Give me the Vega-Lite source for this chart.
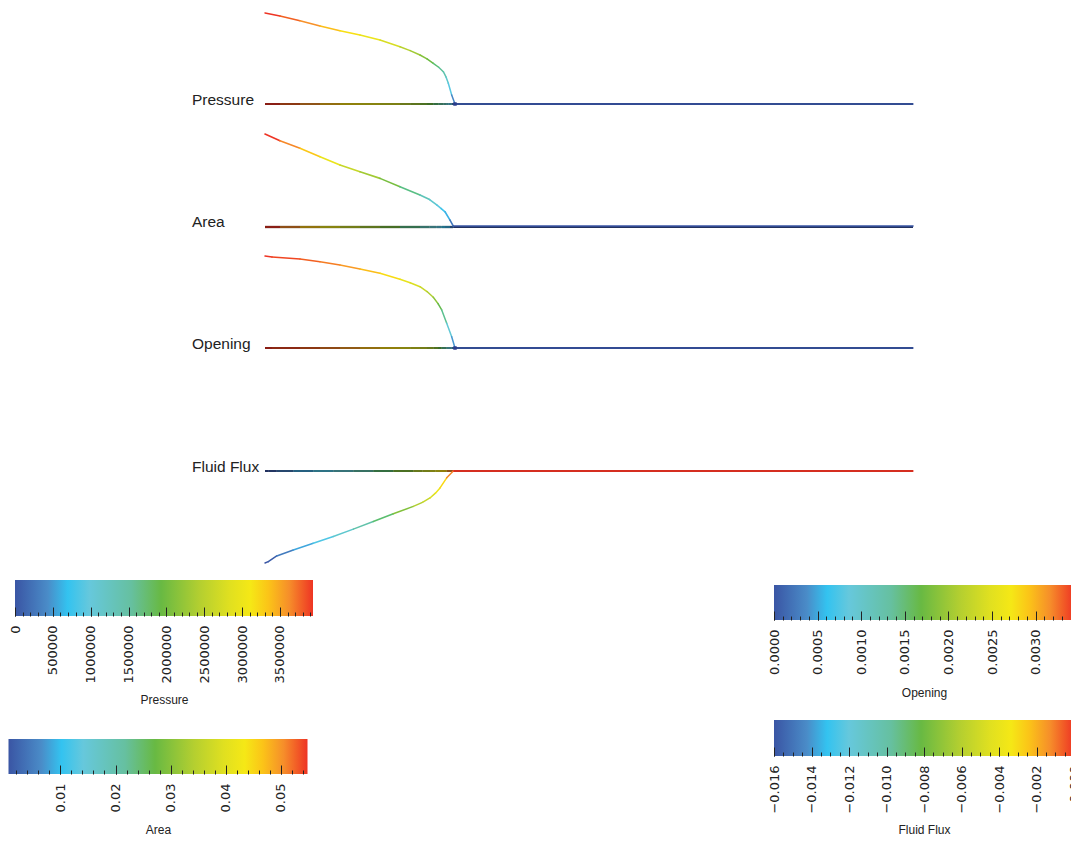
{
  "$schema": "https://vega.github.io/schema/vega-lite/v6.json",
  "width": 1071,
  "height": 841,
  "autosize": "none",
  "padding": 0,
  "background": "#ffffff",
  "config": {
    "view": {"stroke": null},
    "axis": {
      "labelFont": "DejaVu Sans",
      "labelFontSize": 13,
      "labelColor": "#222222",
      "tickColor": "#222222",
      "tickWidth": 1,
      "titleFont": "Liberation Sans",
      "titleFontSize": 12,
      "titleFontWeight": "normal",
      "titleColor": "#222222",
      "titlePadding": 12,
      "labelOverlap": false,
      "labelFlush": false,
      "grid": false,
      "domain": false
    }
  },
  "datasets": {
    "curves": [
      {"series": "Pressure", "s": 0, "v": 3936000},
      {"series": "Pressure", "s": 2.31, "v": 3806000},
      {"series": "Pressure", "s": 5.4, "v": 3603000},
      {"series": "Pressure", "s": 8.49, "v": 3374000},
      {"series": "Pressure", "s": 11.57, "v": 3170000},
      {"series": "Pressure", "s": 14.66, "v": 2984000},
      {"series": "Pressure", "s": 17.75, "v": 2768000},
      {"series": "Pressure", "s": 20.83, "v": 2478000},
      {"series": "Pressure", "s": 22.4, "v": 2310000},
      {"series": "Pressure", "s": 23.92, "v": 2119000},
      {"series": "Pressure", "s": 25.0, "v": 1950000},
      {"series": "Pressure", "s": 25.97, "v": 1760000},
      {"series": "Pressure", "s": 26.8, "v": 1590000},
      {"series": "Pressure", "s": 27.52, "v": 1397000},
      {"series": "Pressure", "s": 27.95, "v": 1160000},
      {"series": "Pressure", "s": 28.29, "v": 895000},
      {"series": "Pressure", "s": 28.81, "v": 389000},
      {"series": "Pressure", "s": 29.32, "v": 0},
      {"series": "Pressure", "s": 100, "v": 0},
      {"series": "Area", "s": 0, "v": 0.0549},
      {"series": "Area", "s": 2.31, "v": 0.0509},
      {"series": "Area", "s": 5.4, "v": 0.0465},
      {"series": "Area", "s": 8.49, "v": 0.0415},
      {"series": "Area", "s": 11.57, "v": 0.0366},
      {"series": "Area", "s": 14.66, "v": 0.0326},
      {"series": "Area", "s": 17.75, "v": 0.0287},
      {"series": "Area", "s": 20.83, "v": 0.0238},
      {"series": "Area", "s": 23.92, "v": 0.0189},
      {"series": "Area", "s": 25.4, "v": 0.0162},
      {"series": "Area", "s": 26.5, "v": 0.013},
      {"series": "Area", "s": 27.2, "v": 0.0108},
      {"series": "Area", "s": 27.78, "v": 0.009},
      {"series": "Area", "s": 28.55, "v": 0.0041},
      {"series": "Area", "s": 29.06, "v": 0.00055},
      {"series": "Area", "s": 100, "v": 0.00055},
      {"series": "Opening", "s": 0, "v": 0.00344},
      {"series": "Opening", "s": 1.08, "v": 0.0034},
      {"series": "Opening", "s": 5.4, "v": 0.003328},
      {"series": "Opening", "s": 8.49, "v": 0.003227},
      {"series": "Opening", "s": 11.57, "v": 0.003104},
      {"series": "Opening", "s": 14.66, "v": 0.002954},
      {"series": "Opening", "s": 17.75, "v": 0.002793},
      {"series": "Opening", "s": 20.83, "v": 0.002569},
      {"series": "Opening", "s": 22.4, "v": 0.00244},
      {"series": "Opening", "s": 23.92, "v": 0.002292},
      {"series": "Opening", "s": 25.0, "v": 0.00211},
      {"series": "Opening", "s": 25.97, "v": 0.001896},
      {"series": "Opening", "s": 26.7, "v": 0.00166},
      {"series": "Opening", "s": 27.27, "v": 0.001421},
      {"series": "Opening", "s": 28.04, "v": 0.000924},
      {"series": "Opening", "s": 28.81, "v": 0.000423},
      {"series": "Opening", "s": 29.32, "v": 0},
      {"series": "Opening", "s": 100, "v": 0},
      {"series": "Fluid Flux", "s": 0, "v": -0.016},
      {"series": "Fluid Flux", "s": 0.51, "v": -0.01577},
      {"series": "Fluid Flux", "s": 1.81, "v": -0.01478},
      {"series": "Fluid Flux", "s": 4.37, "v": -0.01373},
      {"series": "Fluid Flux", "s": 7.45, "v": -0.01256},
      {"series": "Fluid Flux", "s": 10.54, "v": -0.0114},
      {"series": "Fluid Flux", "s": 13.63, "v": -0.01011},
      {"series": "Fluid Flux", "s": 16.71, "v": -0.00878},
      {"series": "Fluid Flux", "s": 19.8, "v": -0.00743},
      {"series": "Fluid Flux", "s": 22.89, "v": -0.00616},
      {"series": "Fluid Flux", "s": 24.3, "v": -0.00545},
      {"series": "Fluid Flux", "s": 25.46, "v": -0.00469},
      {"series": "Fluid Flux", "s": 26.3, "v": -0.00385},
      {"series": "Fluid Flux", "s": 27.01, "v": -0.00294},
      {"series": "Fluid Flux", "s": 28.04, "v": -0.00119},
      {"series": "Fluid Flux", "s": 29.06, "v": 0},
      {"series": "Fluid Flux", "s": 100, "v": 0}
    ],
    "labels": [
      {"label": "Pressure", "s": 0, "v": 0},
      {"label": "Area", "s": 0, "v": 0},
      {"label": "Opening", "s": 0, "v": 0},
      {"label": "Fluid Flux", "s": 0, "v": 0}
    ],
    "tips": [
      {"series": "Pressure", "s": 29.32, "v": 0},
      {"series": "Opening", "s": 29.32, "v": 0}
    ],
    "bars": [
      {"name": "Pressure", "lo": 0, "hi": 3936000},
      {"name": "Area", "lo": 0.00055, "hi": 0.0549},
      {"name": "Opening", "lo": 0, "hi": 0.00344},
      {"name": "Fluid Flux", "lo": -0.016, "hi": 0}
    ]
  },
  "resolve": {
    "scale": {"x": "independent", "y": "independent", "color": "independent"},
    "axis": {"x": "independent", "y": "independent"}
  },
  "layer": [
    {
      "layer": [
        {
          "data": {"name": "curves"},
          "transform": [
            {"filter": "datum.series === 'Pressure'"},
            {"window": [{"op": "lead", "field": "s", "as": "s2"}, {"op": "lead", "field": "v", "as": "v2"}], "sort": [{"field": "s", "order": "ascending"}]},
            {"filter": "datum.s2 != null"}
          ],
          "mark": {"type": "rule", "color": "#000000", "strokeWidth": 2},
          "encoding": {
            "x": {"field": "s", "type": "quantitative", "scale": {"domain": [0, 100], "range": [265, 913], "nice": false, "zero": false}, "axis": null},
            "x2": {"field": "s2"},
            "y": {"datum": 0, "type": "quantitative", "scale": {"domain": [0, 3936000], "range": [104, 13], "nice": false, "zero": false}, "axis": null}
          }
        },
        {
          "data": {"name": "curves"},
          "transform": [
            {"filter": "datum.series === 'Pressure'"},
            {"window": [{"op": "lead", "field": "s", "as": "s2"}, {"op": "lead", "field": "v", "as": "v2"}], "sort": [{"field": "s", "order": "ascending"}]},
            {"filter": "datum.s2 != null"}
          ],
          "mark": {"type": "rule", "strokeWidth": 2, "opacity": 0.58},
          "encoding": {
            "x": {"field": "s", "type": "quantitative", "axis": null},
            "x2": {"field": "s2"},
            "y": {"datum": 0, "type": "quantitative", "axis": null},
            "color": {"field": "v", "type": "quantitative", "legend": null, "scale": {"domain": [0, 432960, 696672, 984000, 1535040, 1928640, 2440320, 2833920, 3109440, 3345600, 3621120, 3936000], "range": ["#3a55a4", "#4a8cc8", "#33c3f0", "#66c8dc", "#66c0a0", "#68b943", "#b4cf30", "#e0e020", "#f5e816", "#fbc418", "#f68e2a", "#ee3424"]}}
          }
        },
        {
          "data": {"name": "curves"},
          "transform": [
            {"filter": "datum.series === 'Pressure'"},
            {"window": [{"op": "lead", "field": "s", "as": "s2"}, {"op": "lead", "field": "v", "as": "v2"}], "sort": [{"field": "s", "order": "ascending"}]},
            {"filter": "datum.s2 != null"}
          ],
          "mark": {"type": "rule", "strokeWidth": 1.5, "strokeCap": "round"},
          "encoding": {
            "x": {"field": "s", "type": "quantitative", "axis": null},
            "x2": {"field": "s2"},
            "y": {"field": "v", "type": "quantitative", "axis": null},
            "y2": {"field": "v2"},
            "color": {"field": "v", "type": "quantitative", "legend": null, "scale": {"domain": [0, 432960, 696672, 984000, 1535040, 1928640, 2440320, 2833920, 3109440, 3345600, 3621120, 3936000], "range": ["#3a55a4", "#4a8cc8", "#33c3f0", "#66c8dc", "#66c0a0", "#68b943", "#b4cf30", "#e0e020", "#f5e816", "#fbc418", "#f68e2a", "#ee3424"]}}
          }
        },
        {
          "data": {"name": "tips"},
          "transform": [{"filter": "datum.series === 'Pressure'"}],
          "mark": {"type": "square", "size": 12, "color": "#2a3c8c", "opacity": 1},
          "encoding": {
            "x": {"field": "s", "type": "quantitative", "axis": null},
            "y": {"field": "v", "type": "quantitative", "axis": null}
          }
        },
        {
          "data": {"name": "labels"},
          "transform": [{"filter": "datum.label === 'Pressure'"}],
          "mark": {"type": "text", "align": "left", "baseline": "alphabetic", "dx": -73, "dy": 1, "font": "Liberation Sans", "fontSize": 15.5, "color": "#222222"},
          "encoding": {
            "x": {"field": "s", "type": "quantitative", "axis": null},
            "y": {"field": "v", "type": "quantitative", "axis": null},
            "text": {"field": "label"}
          }
        }
      ]
    },
    {
      "layer": [
        {
          "data": {"name": "curves"},
          "transform": [
            {"filter": "datum.series === 'Area'"},
            {"window": [{"op": "lead", "field": "s", "as": "s2"}, {"op": "lead", "field": "v", "as": "v2"}], "sort": [{"field": "s", "order": "ascending"}]},
            {"filter": "datum.s2 != null"}
          ],
          "mark": {"type": "rule", "color": "#000000", "strokeWidth": 2.2},
          "encoding": {
            "x": {"field": "s", "type": "quantitative", "scale": {"domain": [0, 100], "range": [265, 913], "nice": false, "zero": false}, "axis": null},
            "x2": {"field": "s2"},
            "y": {"datum": 0, "type": "quantitative", "scale": {"domain": [0, 0.0549], "range": [227, 134], "nice": false, "zero": false}, "axis": null}
          }
        },
        {
          "data": {"name": "curves"},
          "transform": [
            {"filter": "datum.series === 'Area'"},
            {"window": [{"op": "lead", "field": "s", "as": "s2"}, {"op": "lead", "field": "v", "as": "v2"}], "sort": [{"field": "s", "order": "ascending"}]},
            {"filter": "datum.s2 != null"}
          ],
          "mark": {"type": "rule", "strokeWidth": 2.2, "opacity": 0.58},
          "encoding": {
            "x": {"field": "s", "type": "quantitative", "axis": null},
            "x2": {"field": "s2"},
            "y": {"datum": 0, "type": "quantitative", "axis": null},
            "color": {"field": "v", "type": "quantitative", "legend": null, "scale": {"domain": [0.00055, 0.0065285, 0.01017, 0.0141375, 0.0217465, 0.0271815, 0.034247, 0.039682, 0.0434865, 0.0467475, 0.050552, 0.0549], "range": ["#3a55a4", "#4a8cc8", "#33c3f0", "#66c8dc", "#66c0a0", "#68b943", "#b4cf30", "#e0e020", "#f5e816", "#fbc418", "#f68e2a", "#ee3424"]}}
          }
        },
        {
          "data": {"name": "curves"},
          "transform": [
            {"filter": "datum.series === 'Area'"},
            {"window": [{"op": "lead", "field": "s", "as": "s2"}, {"op": "lead", "field": "v", "as": "v2"}], "sort": [{"field": "s", "order": "ascending"}]},
            {"filter": "datum.s2 != null"}
          ],
          "mark": {"type": "rule", "strokeWidth": 1.6, "strokeCap": "round"},
          "encoding": {
            "x": {"field": "s", "type": "quantitative", "axis": null},
            "x2": {"field": "s2"},
            "y": {"field": "v", "type": "quantitative", "axis": null},
            "y2": {"field": "v2"},
            "color": {"field": "v", "type": "quantitative", "legend": null, "scale": {"domain": [0.00055, 0.0065285, 0.01017, 0.0141375, 0.0217465, 0.0271815, 0.034247, 0.039682, 0.0434865, 0.0467475, 0.050552, 0.0549], "range": ["#3a55a4", "#4a8cc8", "#33c3f0", "#66c8dc", "#66c0a0", "#68b943", "#b4cf30", "#e0e020", "#f5e816", "#fbc418", "#f68e2a", "#ee3424"]}}
          }
        },
        {
          "data": {"name": "labels"},
          "transform": [{"filter": "datum.label === 'Area'"}],
          "mark": {"type": "text", "align": "left", "baseline": "alphabetic", "dx": -73, "dy": 0, "font": "Liberation Sans", "fontSize": 15.5, "color": "#222222"},
          "encoding": {
            "x": {"field": "s", "type": "quantitative", "axis": null},
            "y": {"field": "v", "type": "quantitative", "axis": null},
            "text": {"field": "label"}
          }
        }
      ]
    },
    {
      "layer": [
        {
          "data": {"name": "curves"},
          "transform": [
            {"filter": "datum.series === 'Opening'"},
            {"window": [{"op": "lead", "field": "s", "as": "s2"}, {"op": "lead", "field": "v", "as": "v2"}], "sort": [{"field": "s", "order": "ascending"}]},
            {"filter": "datum.s2 != null"}
          ],
          "mark": {"type": "rule", "color": "#000000", "strokeWidth": 2},
          "encoding": {
            "x": {"field": "s", "type": "quantitative", "scale": {"domain": [0, 100], "range": [265, 913], "nice": false, "zero": false}, "axis": null},
            "x2": {"field": "s2"},
            "y": {"datum": 0, "type": "quantitative", "scale": {"domain": [0, 0.00344], "range": [348, 256], "nice": false, "zero": false}, "axis": null}
          }
        },
        {
          "data": {"name": "curves"},
          "transform": [
            {"filter": "datum.series === 'Opening'"},
            {"window": [{"op": "lead", "field": "s", "as": "s2"}, {"op": "lead", "field": "v", "as": "v2"}], "sort": [{"field": "s", "order": "ascending"}]},
            {"filter": "datum.s2 != null"}
          ],
          "mark": {"type": "rule", "strokeWidth": 2, "opacity": 0.58},
          "encoding": {
            "x": {"field": "s", "type": "quantitative", "axis": null},
            "x2": {"field": "s2"},
            "y": {"datum": 0, "type": "quantitative", "axis": null},
            "color": {"field": "v", "type": "quantitative", "legend": null, "scale": {"domain": [0, 0.0003784, 0.00060888, 0.00086, 0.0013416, 0.0016856, 0.0021328, 0.0024768, 0.0027176, 0.002924, 0.0031648, 0.00344], "range": ["#3a55a4", "#4a8cc8", "#33c3f0", "#66c8dc", "#66c0a0", "#68b943", "#b4cf30", "#e0e020", "#f5e816", "#fbc418", "#f68e2a", "#ee3424"]}}
          }
        },
        {
          "data": {"name": "curves"},
          "transform": [
            {"filter": "datum.series === 'Opening'"},
            {"window": [{"op": "lead", "field": "s", "as": "s2"}, {"op": "lead", "field": "v", "as": "v2"}], "sort": [{"field": "s", "order": "ascending"}]},
            {"filter": "datum.s2 != null"}
          ],
          "mark": {"type": "rule", "strokeWidth": 1.5, "strokeCap": "round"},
          "encoding": {
            "x": {"field": "s", "type": "quantitative", "axis": null},
            "x2": {"field": "s2"},
            "y": {"field": "v", "type": "quantitative", "axis": null},
            "y2": {"field": "v2"},
            "color": {"field": "v", "type": "quantitative", "legend": null, "scale": {"domain": [0, 0.0003784, 0.00060888, 0.00086, 0.0013416, 0.0016856, 0.0021328, 0.0024768, 0.0027176, 0.002924, 0.0031648, 0.00344], "range": ["#3a55a4", "#4a8cc8", "#33c3f0", "#66c8dc", "#66c0a0", "#68b943", "#b4cf30", "#e0e020", "#f5e816", "#fbc418", "#f68e2a", "#ee3424"]}}
          }
        },
        {
          "data": {"name": "tips"},
          "transform": [{"filter": "datum.series === 'Opening'"}],
          "mark": {"type": "square", "size": 12, "color": "#2a3c8c", "opacity": 1},
          "encoding": {
            "x": {"field": "s", "type": "quantitative", "axis": null},
            "y": {"field": "v", "type": "quantitative", "axis": null}
          }
        },
        {
          "data": {"name": "labels"},
          "transform": [{"filter": "datum.label === 'Opening'"}],
          "mark": {"type": "text", "align": "left", "baseline": "alphabetic", "dx": -73, "dy": 1, "font": "Liberation Sans", "fontSize": 15.5, "color": "#222222"},
          "encoding": {
            "x": {"field": "s", "type": "quantitative", "axis": null},
            "y": {"field": "v", "type": "quantitative", "axis": null},
            "text": {"field": "label"}
          }
        }
      ]
    },
    {
      "layer": [
        {
          "data": {"name": "curves"},
          "transform": [
            {"filter": "datum.series === 'Fluid Flux'"},
            {"window": [{"op": "lead", "field": "s", "as": "s2"}, {"op": "lead", "field": "v", "as": "v2"}], "sort": [{"field": "s", "order": "ascending"}]},
            {"filter": "datum.s2 != null"}
          ],
          "mark": {"type": "rule", "color": "#000000", "strokeWidth": 2},
          "encoding": {
            "x": {"field": "s", "type": "quantitative", "scale": {"domain": [0, 100], "range": [265, 913], "nice": false, "zero": false}, "axis": null},
            "x2": {"field": "s2"},
            "y": {"datum": 0, "type": "quantitative", "scale": {"domain": [-0.016, 0], "range": [563, 471], "nice": false, "zero": false}, "axis": null}
          }
        },
        {
          "data": {"name": "curves"},
          "transform": [
            {"filter": "datum.series === 'Fluid Flux'"},
            {"window": [{"op": "lead", "field": "s", "as": "s2"}, {"op": "lead", "field": "v", "as": "v2"}], "sort": [{"field": "s", "order": "ascending"}]},
            {"filter": "datum.s2 != null"}
          ],
          "mark": {"type": "rule", "strokeWidth": 2, "opacity": 0.58},
          "encoding": {
            "x": {"field": "s", "type": "quantitative", "axis": null},
            "x2": {"field": "s2"},
            "y": {"datum": 0, "type": "quantitative", "axis": null},
            "color": {"field": "v", "type": "quantitative", "legend": null, "scale": {"domain": [-0.016, -0.01424, -0.013168, -0.012, -0.00976, -0.00816, -0.00608, -0.00448, -0.00336, -0.0024, -0.00128, 0], "range": ["#3a55a4", "#4a8cc8", "#33c3f0", "#66c8dc", "#66c0a0", "#68b943", "#b4cf30", "#e0e020", "#f5e816", "#fbc418", "#f68e2a", "#ee3424"]}}
          }
        },
        {
          "data": {"name": "curves"},
          "transform": [
            {"filter": "datum.series === 'Fluid Flux'"},
            {"window": [{"op": "lead", "field": "s", "as": "s2"}, {"op": "lead", "field": "v", "as": "v2"}], "sort": [{"field": "s", "order": "ascending"}]},
            {"filter": "datum.s2 != null"}
          ],
          "mark": {"type": "rule", "strokeWidth": 1.5, "strokeCap": "round"},
          "encoding": {
            "x": {"field": "s", "type": "quantitative", "axis": null},
            "x2": {"field": "s2"},
            "y": {"field": "v", "type": "quantitative", "axis": null},
            "y2": {"field": "v2"},
            "color": {"field": "v", "type": "quantitative", "legend": null, "scale": {"domain": [-0.016, -0.01424, -0.013168, -0.012, -0.00976, -0.00816, -0.00608, -0.00448, -0.00336, -0.0024, -0.00128, 0], "range": ["#3a55a4", "#4a8cc8", "#33c3f0", "#66c8dc", "#66c0a0", "#68b943", "#b4cf30", "#e0e020", "#f5e816", "#fbc418", "#f68e2a", "#ee3424"]}}
          }
        },
        {
          "data": {"name": "labels"},
          "transform": [{"filter": "datum.label === 'Fluid Flux'"}],
          "mark": {"type": "text", "align": "left", "baseline": "alphabetic", "dx": -73, "dy": 1, "font": "Liberation Sans", "fontSize": 15.5, "color": "#222222"},
          "encoding": {
            "x": {"field": "s", "type": "quantitative", "axis": null},
            "y": {"field": "v", "type": "quantitative", "axis": null},
            "text": {"field": "label"}
          }
        }
      ]
    },
    {
      "data": {"name": "bars"},
      "transform": [{"filter": "datum.name === 'Pressure'"}],
      "resolve": {"axis": {"x": "independent"}},
      "layer": [
        {
          "mark": {"type": "rect", "fill": {"gradient": "linear", "x1": 0, "y1": 0, "x2": 1, "y2": 0, "stops": [{"offset": 0, "color": "#3a55a4"}, {"offset": 0.11, "color": "#4a8cc8"}, {"offset": 0.177, "color": "#33c3f0"}, {"offset": 0.25, "color": "#66c8dc"}, {"offset": 0.39, "color": "#66c0a0"}, {"offset": 0.49, "color": "#68b943"}, {"offset": 0.62, "color": "#b4cf30"}, {"offset": 0.72, "color": "#e0e020"}, {"offset": 0.79, "color": "#f5e816"}, {"offset": 0.85, "color": "#fbc418"}, {"offset": 0.92, "color": "#f68e2a"}, {"offset": 1, "color": "#ee3424"}]}},
          "encoding": {
            "x": {"field": "lo", "type": "quantitative", "scale": {"domain": [0, 3936000], "range": [15, 313], "nice": false, "zero": false},
                  "axis": {"orient": "bottom", "offset": -225, "zindex": 2, "values": [0, 500000, 1000000, 1500000, 2000000, 2500000, 3000000, 3500000], "format": "d", "tickSize": -9, "labelAngle": -90, "labelPadding": 18, "title": "Pressure", "titlePadding": 12}},
            "x2": {"field": "hi"},
            "y": {"datum": 0, "type": "quantitative", "scale": {"domain": [0, 1], "range": [616, 580], "nice": false, "zero": false}, "axis": null},
            "y2": {"datum": 1}
          }
        },
        {
          "mark": {"type": "rect", "opacity": 0},
          "encoding": {
            "x": {"field": "lo", "type": "quantitative",
                  "axis": {"orient": "bottom", "offset": -225, "zindex": 2, "values": [0, 100000, 200000, 300000, 400000, 500000, 600000, 700000, 800000, 900000, 1000000, 1100000, 1200000, 1300000, 1400000, 1500000, 1600000, 1700000, 1800000, 1900000, 2000000, 2100000, 2200000, 2300000, 2400000, 2500000, 2600000, 2700000, 2800000, 2900000, 3000000, 3100000, 3200000, 3300000, 3400000, 3500000, 3600000, 3700000, 3800000, 3900000], "labels": false, "tickSize": -4, "title": null}},
            "x2": {"field": "hi"},
            "y": {"datum": 0, "type": "quantitative", "axis": null},
            "y2": {"datum": 1}
          }
        }
      ]
    },
    {
      "data": {"name": "bars"},
      "transform": [{"filter": "datum.name === 'Area'"}],
      "resolve": {"axis": {"x": "independent"}},
      "layer": [
        {
          "mark": {"type": "rect", "fill": {"gradient": "linear", "x1": 0, "y1": 0, "x2": 1, "y2": 0, "stops": [{"offset": 0, "color": "#3a55a4"}, {"offset": 0.11, "color": "#4a8cc8"}, {"offset": 0.177, "color": "#33c3f0"}, {"offset": 0.25, "color": "#66c8dc"}, {"offset": 0.39, "color": "#66c0a0"}, {"offset": 0.49, "color": "#68b943"}, {"offset": 0.62, "color": "#b4cf30"}, {"offset": 0.72, "color": "#e0e020"}, {"offset": 0.79, "color": "#f5e816"}, {"offset": 0.85, "color": "#fbc418"}, {"offset": 0.92, "color": "#f68e2a"}, {"offset": 1, "color": "#ee3424"}]}},
          "encoding": {
            "x": {"field": "lo", "type": "quantitative", "scale": {"domain": [0.00055, 0.0549], "range": [8.5, 307.5], "nice": false, "zero": false},
                  "axis": {"orient": "bottom", "offset": -67, "zindex": 2, "values": [0.01, 0.02, 0.03, 0.04, 0.05], "format": ".2f", "tickSize": -9, "labelAngle": -90, "labelPadding": 18, "title": "Area", "titlePadding": 13}},
            "x2": {"field": "hi"},
            "y": {"datum": 0, "type": "quantitative", "scale": {"domain": [0, 1], "range": [774, 739], "nice": false, "zero": false}, "axis": null},
            "y2": {"datum": 1}
          }
        },
        {
          "mark": {"type": "rect", "opacity": 0},
          "encoding": {
            "x": {"field": "lo", "type": "quantitative",
                  "axis": {"orient": "bottom", "offset": -67, "zindex": 2, "values": [0.002, 0.004, 0.006, 0.008, 0.01, 0.012, 0.014, 0.016, 0.018, 0.02, 0.022, 0.024, 0.026, 0.028, 0.03, 0.032, 0.034, 0.036, 0.038, 0.04, 0.042, 0.044, 0.046, 0.048, 0.05, 0.052, 0.054], "labels": false, "tickSize": -4, "title": null}},
            "x2": {"field": "hi"},
            "y": {"datum": 0, "type": "quantitative", "axis": null},
            "y2": {"datum": 1}
          }
        }
      ]
    },
    {
      "data": {"name": "bars"},
      "transform": [{"filter": "datum.name === 'Opening'"}],
      "resolve": {"axis": {"x": "independent"}},
      "layer": [
        {
          "mark": {"type": "rect", "fill": {"gradient": "linear", "x1": 0, "y1": 0, "x2": 1, "y2": 0, "stops": [{"offset": 0, "color": "#3a55a4"}, {"offset": 0.11, "color": "#4a8cc8"}, {"offset": 0.177, "color": "#33c3f0"}, {"offset": 0.25, "color": "#66c8dc"}, {"offset": 0.39, "color": "#66c0a0"}, {"offset": 0.49, "color": "#68b943"}, {"offset": 0.62, "color": "#b4cf30"}, {"offset": 0.72, "color": "#e0e020"}, {"offset": 0.79, "color": "#f5e816"}, {"offset": 0.85, "color": "#fbc418"}, {"offset": 0.92, "color": "#f68e2a"}, {"offset": 1, "color": "#ee3424"}]}},
          "encoding": {
            "x": {"field": "lo", "type": "quantitative", "scale": {"domain": [0, 0.00344], "range": [774, 1074], "nice": false, "zero": false},
                  "axis": {"orient": "bottom", "offset": -221, "zindex": 2, "values": [0, 0.0005, 0.001, 0.0015, 0.002, 0.0025, 0.003], "format": ".4f", "tickSize": -9, "labelAngle": -90, "labelPadding": 18, "title": "Opening", "titlePadding": 13}},
            "x2": {"field": "hi"},
            "y": {"datum": 0, "type": "quantitative", "scale": {"domain": [0, 1], "range": [620, 585], "nice": false, "zero": false}, "axis": null},
            "y2": {"datum": 1}
          }
        },
        {
          "mark": {"type": "rect", "opacity": 0},
          "encoding": {
            "x": {"field": "lo", "type": "quantitative",
                  "axis": {"orient": "bottom", "offset": -221, "zindex": 2, "values": [0, 0.0001, 0.0002, 0.0003, 0.0004, 0.0005, 0.0006, 0.0007, 0.0008, 0.0009, 0.001, 0.0011, 0.0012, 0.0013, 0.0014, 0.0015, 0.0016, 0.0017, 0.0018, 0.0019, 0.002, 0.0021, 0.0022, 0.0023, 0.0024, 0.0025, 0.0026, 0.0027, 0.0028, 0.0029, 0.003, 0.0031, 0.0032, 0.0033, 0.0034], "labels": false, "tickSize": -4, "title": null}},
            "x2": {"field": "hi"},
            "y": {"datum": 0, "type": "quantitative", "axis": null},
            "y2": {"datum": 1}
          }
        }
      ]
    },
    {
      "data": {"name": "bars"},
      "transform": [{"filter": "datum.name === 'Fluid Flux'"}],
      "resolve": {"axis": {"x": "independent"}},
      "layer": [
        {
          "mark": {"type": "rect", "fill": {"gradient": "linear", "x1": 0, "y1": 0, "x2": 1, "y2": 0, "stops": [{"offset": 0, "color": "#3a55a4"}, {"offset": 0.11, "color": "#4a8cc8"}, {"offset": 0.177, "color": "#33c3f0"}, {"offset": 0.25, "color": "#66c8dc"}, {"offset": 0.39, "color": "#66c0a0"}, {"offset": 0.49, "color": "#68b943"}, {"offset": 0.62, "color": "#b4cf30"}, {"offset": 0.72, "color": "#e0e020"}, {"offset": 0.79, "color": "#f5e816"}, {"offset": 0.85, "color": "#fbc418"}, {"offset": 0.92, "color": "#f68e2a"}, {"offset": 1, "color": "#ee3424"}]}},
          "encoding": {
            "x": {"field": "lo", "type": "quantitative", "scale": {"domain": [-0.016, 0], "range": [774, 1074], "nice": false, "zero": false},
                  "axis": {"orient": "bottom", "offset": -85, "zindex": 2, "values": [-0.016, -0.014, -0.012, -0.01, -0.008, -0.006, -0.004, -0.002, 0], "format": ".3f", "tickSize": -9, "labelAngle": -90, "labelPadding": 18, "title": "Fluid Flux", "titlePadding": 11}},
            "x2": {"field": "hi"},
            "y": {"datum": 0, "type": "quantitative", "scale": {"domain": [0, 1], "range": [756, 720], "nice": false, "zero": false}, "axis": null},
            "y2": {"datum": 1}
          }
        },
        {
          "mark": {"type": "rect", "opacity": 0},
          "encoding": {
            "x": {"field": "lo", "type": "quantitative",
                  "axis": {"orient": "bottom", "offset": -85, "zindex": 2, "values": [-0.016, -0.0155, -0.015, -0.0145, -0.014, -0.0135, -0.013, -0.0125, -0.012, -0.0115, -0.011, -0.0105, -0.01, -0.0095, -0.009, -0.0085, -0.008, -0.0075, -0.007, -0.0065, -0.006, -0.0055, -0.005, -0.0045, -0.004, -0.0035, -0.003, -0.0025, -0.002, -0.0015, -0.001, -0.0005, 0], "labels": false, "tickSize": -4, "title": null}},
            "x2": {"field": "hi"},
            "y": {"datum": 0, "type": "quantitative", "axis": null},
            "y2": {"datum": 1}
          }
        }
      ]
    }
  ]
}
